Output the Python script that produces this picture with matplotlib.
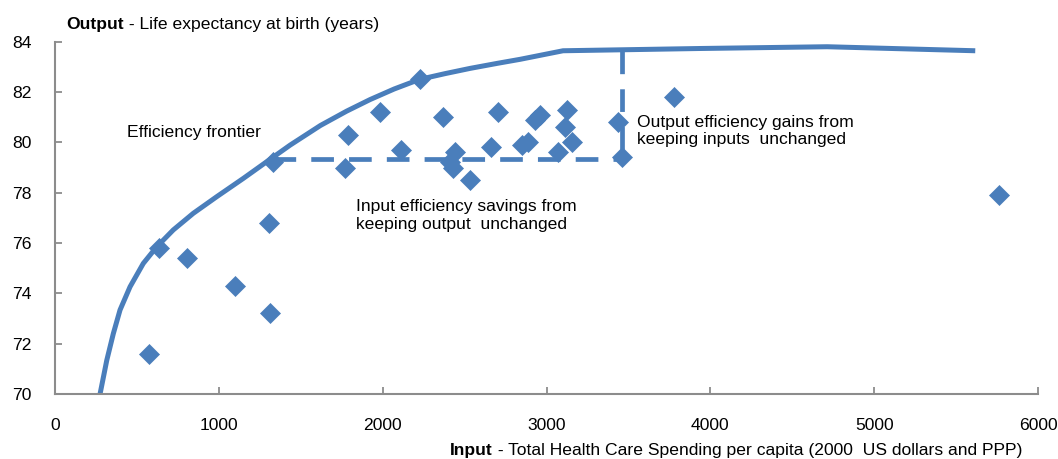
import matplotlib
matplotlib.use("Agg")
import matplotlib.pyplot as plt

plt.rcParams['font.family'] = ['Liberation Sans', 'DejaVu Sans']

# data
spend = [576, 637, 806, 1101, 1309, 1315, 1330, 1768, 1789, 1982, 2114, 2226,
         2369, 2440, 2410, 2430, 2532, 2664, 2705, 2848, 2889, 2929, 2960,
         3123, 3112, 3153, 3072, 3439, 3463, 3781, 5762]
life = [71.6, 75.8, 75.4, 74.3, 76.8, 73.2, 79.2, 79.0, 80.3, 81.2, 79.7, 82.5,
        81.0, 79.6, 79.2, 79.0, 78.5, 79.8, 81.2, 79.9, 80.0, 80.9, 81.1,
        81.3, 80.6, 80.0, 79.6, 80.8, 79.4, 81.8, 77.9]

frontier_x = [275, 316, 356, 397, 458, 539, 621, 722, 844, 987, 1150, 1292,
              1435, 1620, 1780, 1923, 2070, 2224, 2380, 2534, 2700, 2839,
              3101, 3938, 4713, 5617]
frontier_y = [70.0, 71.34, 72.40, 73.34, 74.26, 75.19, 75.85, 76.52, 77.18,
              77.84, 78.57, 79.23, 79.89, 80.67, 81.24, 81.70, 82.12, 82.50,
              82.73, 82.94, 83.14, 83.30, 83.64, 83.73, 83.80, 83.64]

input_gap_x = [1330, 3460]
ref_level = 79.35
output_gap_y = [83.64, 79.35]

xticks = [0, 1000, 2000, 3000, 4000, 5000, 6000]
yticks = [70, 72, 74, 76, 78, 80, 82, 84]

blue = '#4a7ebb'
grey = '#8c8c8c'
fs = 12.6

fig = plt.figure(figsize=(10.58, 4.59), dpi=100)
ax = fig.add_axes([55/1058, (459-394)/459, (1038-55)/1058, (394-41.7)/459])

ax.plot(frontier_x, frontier_y, color=blue, lw=3.6, zorder=2,
        solid_capstyle='butt', solid_joinstyle='round')
ax.plot(input_gap_x, [ref_level, ref_level], color=blue, lw=3.4,
        dashes=(4.8, 3.2), zorder=2, dash_capstyle='butt')
ax.plot([input_gap_x[1], input_gap_x[1]], output_gap_y, color=blue, lw=3.4,
        dashes=(4.8, 3.2), zorder=2, dash_capstyle='butt')
ax.plot(spend, life, 'D', color=blue, ms=10, mec=blue, mew=0.5, zorder=3,
        linestyle='none')

ax.set_xlim(0, 6000)
ax.set_ylim(70, 84)
ax.set_xticks(xticks)
ax.set_yticks(yticks)
ax.tick_params(direction='in', length=5, width=1.3, color=grey,
               labelsize=fs, labelcolor='black')
ax.tick_params(axis='x', pad=17)
ax.tick_params(axis='y', pad=17)
for s in ['top', 'right']:
    ax.spines[s].set_visible(False)
for s in ['left', 'bottom']:
    ax.spines[s].set_color(grey)
    ax.spines[s].set_linewidth(1.5)

ax.text(440, 80.4, 'Efficiency frontier', fontsize=fs, va='center')
ax.text(1840, 77.1, 'Input efficiency savings from\nkeeping output  unchanged',
        fontsize=fs, va='center', linespacing=1.2)
ax.text(3550, 80.45, 'Output efficiency gains from\nkeeping inputs  unchanged',
        fontsize=fs, va='center', linespacing=1.2)

# bold/regular axis titles
fig.canvas.draw()
r = fig.canvas.get_renderer()

def title(x, y, bold, rest):
    t = fig.text(x/1058, 1 - y/459, bold, fontsize=fs, weight='bold', va='center')
    bb = t.get_window_extent(r)
    fig.text(bb.x1/1058, 1 - y/459, rest, fontsize=fs, va='center')

title(66, 25, 'Output', ' - Life expectancy at birth (years)')
title(450, 450, 'Input', ' - Total Health Care Spending per capita (2000  US dollars and PPP)')

fig.savefig('out.png', dpi=100)
